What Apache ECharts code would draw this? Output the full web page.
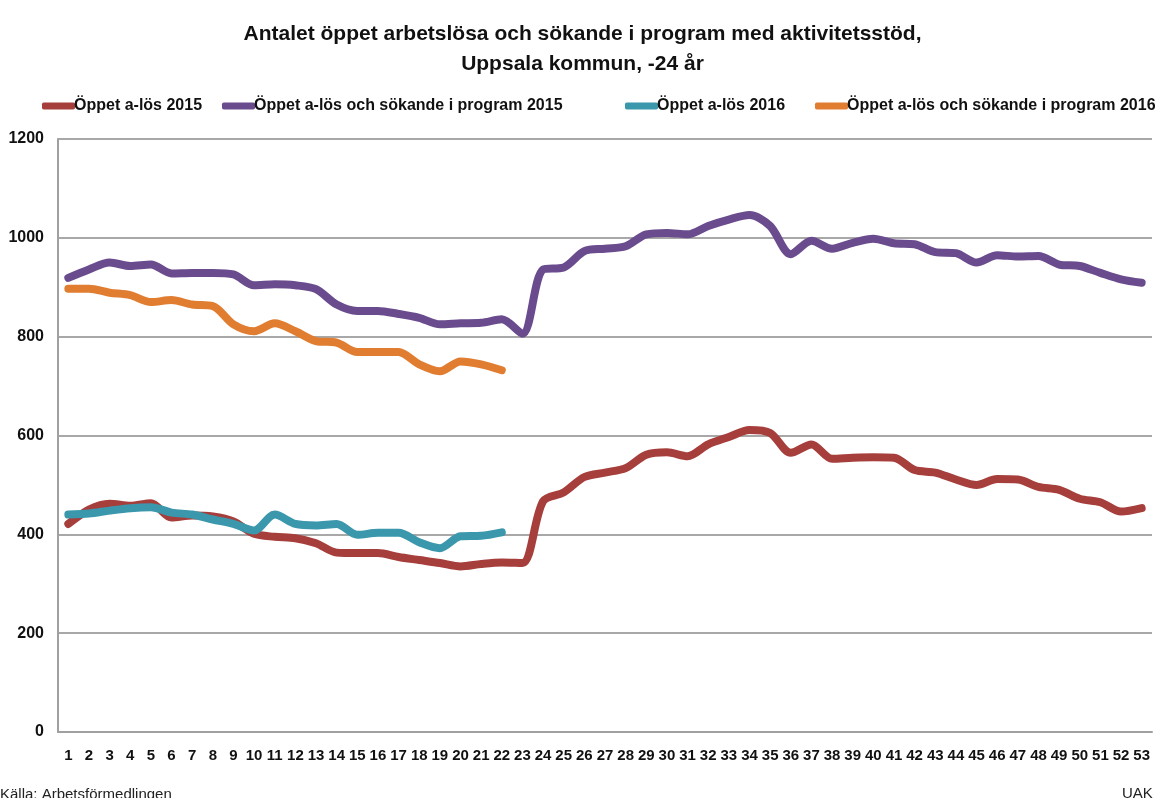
<!DOCTYPE html>
<html>
<head>
<meta charset="utf-8">
<title>Antalet öppet arbetslösa, Uppsala kommun</title>
<script src="https://cdn.jsdelivr.net/npm/echarts@6/dist/echarts.min.js"></script>
<style>
  html, body { margin: 0; padding: 0; background: #fff; }
  #chart { width: 1165px; height: 798px; }
</style>
</head>
<body>
<div id="chart"></div>
<script>
// veckor 1-53
const weeks = []
for (let w = 1; w <= 53; w++) weeks.push(String(w))

// Öppet a-lös 2015
const open2015 = [421, 450, 462, 458, 463, 434, 438, 436, 426, 401, 395, 392, 382, 363, 362, 362, 354, 348, 342, 335, 340, 343, 342,
  467, 485, 516, 525, 534, 561, 566, 558, 582, 597, 611, 605, 565, 582, 553, 555, 556, 555, 530, 525, 511, 500, 512, 511, 496, 490, 472, 465, 446, 453]
// Öppet a-lös och sökande i program 2015
const total2015 = [919, 936, 950, 943, 946, 928, 929, 929, 926, 904, 906, 904, 896, 865, 852, 852, 846, 838, 825, 827, 828, 835, 806,
  936, 940, 973, 978, 983, 1007, 1010, 1007, 1024, 1037, 1046, 1024, 967, 994, 978, 990, 998, 989, 987, 971, 969, 950, 965, 962, 963, 946, 943, 929, 916, 909]
// Öppet a-lös 2016
const open2016 = [440, 442, 448, 453, 455, 444, 440, 430, 421, 408, 440, 421, 418, 421, 399, 403, 403, 384, 372, 396, 397, 404]
// Öppet a-lös och sökande i program 2016
const total2016 = [897, 897, 889, 884, 870, 874, 865, 862, 825, 811, 827, 811, 791, 788, 769, 769, 769, 744, 730, 750, 744, 732]

const seriesNames = ['Öppet a-lös 2015', 'Öppet a-lös och sökande i program 2015', 'Öppet a-lös 2016', 'Öppet a-lös och sökande i program 2016']
const colors = ['#A63E3B', '#6A4C8E', '#3A97AC', '#E07D30']
const legendLefts = [42, 222, 625, 815] // en legend per serie, som i originalet

const font = '"Liberation Sans Narrow", "Liberation Sans", Arial, sans-serif'

const chart = echarts.init(document.getElementById('chart'))

const makeLine = (name, data, color) => ({
  name: name,
  type: 'line',
  data: data,
  smooth: 0.3,
  symbol: 'none',
  lineStyle: { width: 8, color: color, cap: 'round', join: 'round' },
  itemStyle: { color: color }
})

const legends = seriesNames.map((name, i) => ({
  top: 98,
  left: legendLefts[i],
  padding: 0,
  itemWidth: 33,
  itemHeight: 7,
  icon: 'roundRect',
  textStyle: { fontFamily: font, fontSize: 16, fontWeight: 'bold', color: '#111', padding: [0, 0, 0, -6] },
  data: [name]
}))

const option = {
  animation: false,
  backgroundColor: '#fff',
  textStyle: { fontFamily: font },
  title: {
    text: 'Antalet öppet arbetslösa och sökande i program med aktivitetsstöd,\nUppsala kommun, -24 år',
    left: 'center',
    top: 14,
    textStyle: { fontFamily: font, fontSize: 21, fontWeight: 'bold', color: '#111', lineHeight: 30 }
  },
  legend: legends,
  grid: { left: 58, right: 13, top: 139, bottom: 66 },
  xAxis: {
    type: 'category',
    data: weeks,
    boundaryGap: true,
    axisLine: { lineStyle: { color: '#A0A0A0', width: 2 } },
    axisTick: { show: false },
    axisLabel: { interval: 0, fontFamily: font, fontSize: 15, fontWeight: 'bold', color: '#111', margin: 16 }
  },
  yAxis: {
    type: 'value',
    min: 0,
    max: 1200,
    interval: 200,
    axisLine: { show: true, lineStyle: { color: '#A0A0A0', width: 2 } },
    axisTick: { show: false },
    splitLine: { lineStyle: { color: '#A8A8A8', width: 2 } },
    axisLabel: { formatter: v => String(v), fontFamily: font, fontSize: 16, fontWeight: 'bold', color: '#111', margin: 14 }
  },
  graphic: [
    { type: 'text', left: 0, top: 787, style: { text: 'Källa: Arbetsförmedlingen', fontFamily: font, fontSize: 15, fill: '#222' } },
    { type: 'text', left: 1122, top: 786, style: { text: 'UAK', fontFamily: font, fontSize: 15, fill: '#222' } }
  ],
  series: [
    makeLine(seriesNames[0], open2015, colors[0]),
    makeLine(seriesNames[1], total2015, colors[1]),
    makeLine(seriesNames[2], open2016, colors[2]),
    makeLine(seriesNames[3], total2016, colors[3])
  ]
}

chart.setOption(option)
</script>
</body>
</html>
